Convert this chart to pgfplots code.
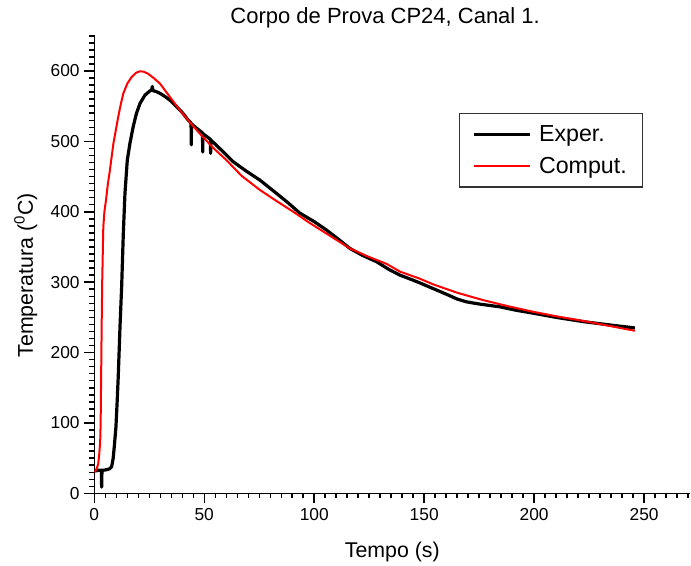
\documentclass[border=0pt]{standalone}
\usepackage{fontspec}
\setmainfont{Liberation Sans}
\usepackage{pgfplots}
\pgfplotsset{compat=1.18}
\begin{document}
\begin{tikzpicture}
\useasboundingbox (-70.7pt,-53.8pt) rectangle (447.5pt,370pt);
\begin{axis}[
  at={(0,0)}, anchor=south west,
  scale only axis, width=447pt, height=343.7pt,
  xmin=0, xmax=271, ymin=0, ymax=651,
  axis lines=left, axis line style={-, line width=1.1pt},
  tick align=outside,
  major tick length=7.5pt, minor tick length=3.75pt,
  every tick/.style={black, line width=1.1pt},
  xtick={0,50,...,300}, ytick={0,100,...,700},
  minor x tick num=9, minor y tick num=9,
  tick label style={font=\fontsize{13}{15}\selectfont},
  /pgf/number format/assume math mode=true,
  xlabel={Tempo (s)},
  ylabel={Temperatura (\textsuperscript{0}C)},
  title={Corpo de Prova CP24, Canal 1.},
  title style={font=\fontsize{16.5}{20}\selectfont, at={(axis description cs:0.488,1.0073)}, anchor=base},
  xlabel style={font=\fontsize{16}{19}\selectfont, at={(axis description cs:0.5,-0.139)}, anchor=base},
  ylabel style={font=\fontsize{16}{19}\selectfont, at={(axis description cs:-0.1029,0.476)}, anchor=base},
  legend style={at={(axis description cs:0.612,0.830)}, anchor=north west,
    draw=black!80, line width=0.8pt, inner xsep=10pt, inner ysep=7pt, row sep=6pt,
    font=\fontsize{17.4}{20}\selectfont,
    /tikz/every odd column/.append style={column sep=4pt}},
  legend cell align=left,
  legend image code/.code={\draw[#1, line width=1.6pt] (0pt,0pt) -- (42pt,0pt);},
]
\addplot[black, line width=2.4pt, line join=round] coordinates {
(0,33) (1,32) (2,33) (3.2,33) (3.35,9) (3.5,33) (4.5,33) (6,34) (7,35) (7.9,38)
(8.6,50) (9.2,70) (9.86,95) (10.4,130) (10.9,166) (11.7,237) (12.44,293) (13.2,369)
(13.95,426) (15,473) (16.2,497) (17.7,521) (19.2,540) (20.8,554) (23,565.5) (25,571)
(26.1,573) (26.4,578) (26.7,572) (28,571) (30,568) (32.5,563) (35,557) (37.5,549)
(40,541) (42.5,531) (44,526) (44.1,495) (44.2,525) (46,520) (49.2,512) (49.3,485)
(49.4,511) (52.8,503) (52.9,483) (53,502) (55,496) (58,487) (63.2,471) (69,458)
(75.3,445) (82.9,426) (88,413) (93.5,398) (100,386) (105.6,374) (111,361) (116.2,348)
(122,338) (128.4,329) (134,318) (139,310) (144,304) (148,299) (154,291) (160,283)
(165,276) (169.3,272) (175,269) (184.4,265) (192,260) (199.5,256) (210,250)
(222.3,244) (235,239) (245.8,235)
};
\addlegendentry{Exper.}
\addplot[red, line width=1.5pt, line join=round] coordinates {
(0,30) (1,34) (1.8,42) (2.3,57) (2.7,75) (2.9,100) (3.1,160) (3.35,236) (3.6,300)
(3.8,331) (4.1,378) (4.6,400) (5.3,416) (6.2,440) (7.1,459) (8.7,497) (10.9,535)
(12,552) (13.2,568) (15,582) (17,591.5) (19,597.5) (20.8,599.6) (22.5,599) (24.5,596)
(27,590) (29.9,582) (34.4,563) (39,544) (43.5,527) (48,511) (54,491) (60.2,473)
(67,451) (75.3,431) (83,415) (90.5,400) (98,384) (105.6,369) (116.2,348) (124,337)
(132.9,326) (139,315) (148,305) (154,297) (165,285) (176.8,274.5) (188,266)
(199.5,258) (211,251) (222.3,245) (234,238) (245.8,231)
};
\addlegendentry{Comput.}
\end{axis}
\end{tikzpicture}
\end{document}
